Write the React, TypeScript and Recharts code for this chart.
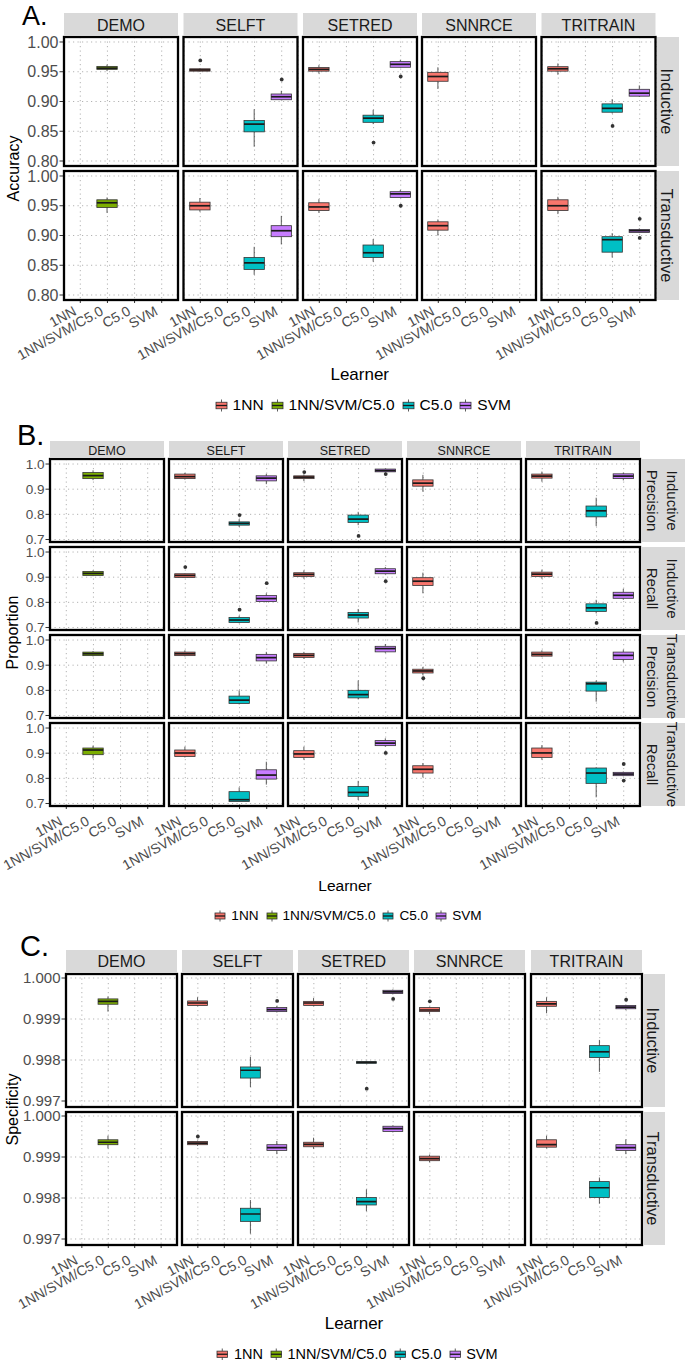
import React from 'react';
import { ComposedChart, Bar, Scatter, XAxis, YAxis, CartesianGrid } from 'recharts';

const FONT = '"Liberation Sans", Arial, Helvetica, sans-serif';

// Categories
const LEARNERS = ['1NN', '1NN/SVM/C5.0', 'C5.0', 'SVM'];
const METHODS = ['DEMO', 'SELFT', 'SETRED', 'SNNRCE', 'TRITRAIN'];
const FILLS = ['#F8766D', '#7CAE00', '#00BFC4', '#C77CFF'];

// Each box: [min, q1, median, q3, max, ...outliers]; list index follows LEARNERS
type Stat = number[] | null;

const accuracyInductive: Record<string, Stat[]> = {
  DEMO: [null, [0.951, 0.954, 0.956, 0.959, 0.962], null, null],
  SELFT: [[0.95, 0.951, 0.953, 0.955, 0.956, 0.969], null, [0.824, 0.849, 0.862, 0.868, 0.887], [0.9025, 0.903, 0.908, 0.9126, 0.918, 0.937]],
  SETRED: [[0.947, 0.951, 0.954, 0.957, 0.961], null, [0.862, 0.865, 0.872, 0.877, 0.886, 0.831], [0.957, 0.9575, 0.9625, 0.967, 0.97, 0.942]],
  SNNRCE: [[0.921, 0.934, 0.942, 0.949, 0.9575], null, null, null],
  TRITRAIN: [[0.945, 0.951, 0.955, 0.9585, 0.964], null, [0.88, 0.882, 0.8885, 0.896, 0.904, 0.859], [0.908, 0.909, 0.914, 0.9205, 0.927]],
};

const accuracyTransductive: Record<string, Stat[]> = {
  DEMO: [null, [0.938, 0.947, 0.955, 0.96, 0.964], null, null],
  SELFT: [[0.94, 0.943, 0.95, 0.956, 0.963], null, [0.834, 0.843, 0.854, 0.863, 0.881], [0.885, 0.898, 0.908, 0.9165, 0.933]],
  SETRED: [[0.938, 0.942, 0.948, 0.955, 0.961], null, [0.856, 0.863, 0.871, 0.884, 0.894], [0.9636, 0.9637, 0.97, 0.9736, 0.9765, 0.95]],
  SNNRCE: [[0.9, 0.909, 0.9165, 0.923, 0.927], null, null, null],
  TRITRAIN: [[0.936, 0.942, 0.95, 0.96, 0.965], null, [0.863, 0.872, 0.893, 0.898, 0.904], [0.904, 0.905, 0.908, 0.91, 0.912, 0.928, 0.896]],
};

const precisionInductive: Record<string, Stat[]> = {
  DEMO: [null, [0.936, 0.942, 0.954, 0.966, 0.975], null, null],
  SELFT: [[0.938, 0.942, 0.95, 0.96, 0.965], null, [0.75, 0.757, 0.764, 0.77, 0.781, 0.797], [0.92, 0.933, 0.944, 0.953, 0.961]],
  SETRED: [[0.932, 0.942, 0.948, 0.953, 0.959, 0.968], null, [0.757, 0.768, 0.781, 0.797, 0.81, 0.714], [0.966, 0.969, 0.974, 0.98, 0.982, 0.96]],
  SNNRCE: [[0.89, 0.912, 0.924, 0.937, 0.957], null, null, null],
  TRITRAIN: [[0.93, 0.944, 0.952, 0.96, 0.97], null, [0.753, 0.79, 0.814, 0.833, 0.866], [0.935, 0.942, 0.952, 0.961, 0.966]],
};

const recallInductive: Record<string, Stat[]> = {
  DEMO: [null, [0.904, 0.907, 0.915, 0.923, 0.927], null, null],
  SELFT: [[0.898, 0.899, 0.907, 0.9136, 0.915, 0.94], null, [0.717, 0.72, 0.7296, 0.74, 0.747, 0.771], [0.8, 0.803, 0.815, 0.827, 0.836, 0.876]],
  SETRED: [[0.894, 0.903, 0.911, 0.9176, 0.927], null, [0.72, 0.7376, 0.7496, 0.76, 0.7736], [0.911, 0.9136, 0.924, 0.9336, 0.94, 0.884]],
  SNNRCE: [[0.836, 0.867, 0.884, 0.898, 0.918], null, null, null],
  TRITRAIN: [[0.894, 0.903, 0.912, 0.92, 0.93], null, [0.756, 0.764, 0.778, 0.794, 0.81, 0.718], [0.81, 0.816, 0.828, 0.84, 0.854]],
};

const precisionTransductive: Record<string, Stat[]> = {
  DEMO: [null, [0.935, 0.938, 0.9455, 0.952, 0.956], null, null],
  SELFT: [[0.935, 0.938, 0.9455, 0.952, 0.959], null, [0.744, 0.748, 0.761, 0.777, 0.8], [0.906, 0.917, 0.93, 0.943, 0.953]],
  SETRED: [[0.925, 0.931, 0.939, 0.947, 0.953], null, [0.764, 0.77, 0.783, 0.8, 0.839], [0.949, 0.953, 0.966, 0.975, 0.984]],
  SNNRCE: [[0.86, 0.869, 0.877, 0.884, 0.893, 0.848], null, null, null],
  TRITRAIN: [[0.933, 0.936, 0.943, 0.952, 0.959], null, [0.755, 0.797, 0.826, 0.8325, 0.839], [0.914, 0.923, 0.939, 0.952, 0.962]],
};

const recallTransductive: Record<string, Stat[]> = {
  DEMO: [null, [0.879, 0.894, 0.9126, 0.9205, 0.93], null, null],
  SELFT: [[0.883, 0.887, 0.9007, 0.9126, 0.926], null, [0.707, 0.708, 0.715, 0.747, 0.764], [0.775, 0.797, 0.813, 0.834, 0.866]],
  SETRED: [[0.874, 0.883, 0.897, 0.91, 0.926], null, [0.714, 0.7285, 0.744, 0.768, 0.79], [0.926, 0.93, 0.94, 0.95, 0.959, 0.901]],
  SNNRCE: [[0.804, 0.821, 0.836, 0.85, 0.861], null, null, null],
  TRITRAIN: [[0.874, 0.883, 0.901, 0.9205, 0.932], null, [0.7245, 0.78, 0.821, 0.841, 0.844], [0.808, 0.8106, 0.817, 0.8238, 0.827, 0.857, 0.791]],
};

const specificityInductive: Record<string, Stat[]> = {
  DEMO: [null, [0.99918, 0.99936, 0.99943, 0.99949, 0.99955], null, null],
  SELFT: [[0.99931, 0.99933, 0.99939, 0.99944, 0.99953], null, [0.99734, 0.99756, 0.99775, 0.99783, 0.99808], [0.99916, 0.99918, 0.99923, 0.99928, 0.99932, 0.99944]],
  SETRED: [[0.99931, 0.99933, 0.99939, 0.99943, 0.99951], null, [0.99791, 0.99792, 0.99794, 0.99796, 0.99797, 0.9973], [0.9996, 0.99962, 0.99966, 0.9997, 0.99972, 0.99949]],
  SNNRCE: [[0.99912, 0.99918, 0.99922, 0.99928, 0.9993, 0.99943], null, null, null],
  TRITRAIN: [[0.99914, 0.99931, 0.99937, 0.99943, 0.99953], null, [0.99771, 0.99806, 0.9982, 0.99835, 0.99849], [0.99922, 0.99925, 0.99929, 0.99933, 0.99935, 0.99947]],
};

const specificityTransductive: Record<string, Stat[]> = {
  DEMO: [null, [0.99921, 0.9993, 0.99936, 0.99942, 0.99952], null, null],
  SELFT: [[0.99927, 0.9993, 0.99934, 0.99938, 0.9994, 0.9995], null, [0.99713, 0.99743, 0.99761, 0.99775, 0.99795], [0.99907, 0.99916, 0.99923, 0.9993, 0.99939]],
  SETRED: [[0.9992, 0.99925, 0.99931, 0.99936, 0.99947], null, [0.99768, 0.99783, 0.99791, 0.99801, 0.99821], [0.9996, 0.99962, 0.99969, 0.99975, 0.99977]],
  SNNRCE: [[0.99887, 0.99891, 0.99896, 0.99902, 0.99906], null, null, null],
  TRITRAIN: [[0.99921, 0.99924, 0.9993, 0.99942, 0.99952], null, [0.99786, 0.99801, 0.99825, 0.9984, 0.9985], [0.99907, 0.99916, 0.99923, 0.9993, 0.99943]],
};

// Tick labels
const ACC_TICKS = [0.8, 0.85, 0.9, 0.95, 1.0];
const PROP_TICKS = [0.7, 0.8, 0.9, 1.0];
const SPEC_TICKS = [0.997, 0.998, 0.999, 1.0];

const PANELS = [
  {
    letter: 'A.', letterX: 22, letterBase: 25, letterFont: 27,
    cols: [64, 183.5, 303, 422, 541.5], W: 114,
    rowsY: [37, 171], H: 129,
    stripTop: 13, stripH: 22, stripFont: 16, stripBase: 30.5,
    rsX: 657, rsW: 22, rsFont: 16.5, rsBases: [660.5],
    rowLabels: [['Inductive'], ['Transductive']],
    rowData: [accuracyInductive, accuracyTransductive],
    domain: [0.7916, 1.0084], ticks: ACC_TICKS, decimals: 2,
    yFont: 16, xFont: 14, xDy: 9,
    yTitle: 'Accuracy', yTitleX: 18.5, yTitleFont: 16,
    learnerBase: 380, learnerFont: 17,
    legendCY: 405, legendFont: 15.5, legendKey: 13,
  },
  {
    letter: 'B.', letterX: 17, letterBase: 445, letterFont: 29,
    cols: [50, 169, 288, 407, 526], W: 114,
    rowsY: [459, 547, 635, 723], H: 83,
    stripTop: 441, stripH: 17, stripFont: 12.5, stripBase: 455,
    rsX: 642, rsW: 43, rsFont: 15, rsBases: [666.7, 646.7],
    rowLabels: [['Inductive', 'Precision'], ['Inductive', 'Recall'], ['Transductive', 'Precision'], ['Transductive', 'Recall']],
    rowData: [precisionInductive, recallInductive, precisionTransductive, recallTransductive],
    domain: [0.69, 1.02], ticks: PROP_TICKS, decimals: 1,
    yFont: 13.5, xFont: 14, xDy: 13,
    yTitle: 'Proportion', yTitleX: 18, yTitleFont: 16,
    learnerBase: 890.5, learnerFont: 15.5,
    legendCY: 915.5, legendFont: 13.6, legendKey: 12,
  },
  {
    letter: 'C.', letterX: 20, letterBase: 956, letterFont: 29,
    cols: [66, 182, 298, 414, 531], W: 111,
    rowsY: [974, 1112], H: 133,
    stripTop: 950, stripH: 23, stripFont: 16, stripBase: 967,
    rsX: 643, rsW: 22, rsFont: 16.5, rsBases: [646.5],
    rowLabels: [['Inductive'], ['Transductive']],
    rowData: [specificityInductive, specificityTransductive],
    domain: [0.9968537, 1.0000976], ticks: SPEC_TICKS, decimals: 3,
    yFont: 15, xFont: 14, xDy: 13,
    yTitle: 'Specificity', yTitleX: 18, yTitleFont: 16,
    learnerBase: 1328.5, learnerFont: 17,
    legendCY: 1354.5, legendFont: 14.5, legendKey: 12.5,
  },
];

const BOX_STROKE = '#333333';

function BoxShape(props: any) {
  const { x, y, width, height, payload } = props;
  const s: Stat = payload ? payload.stat : null;
  if (!s || !isFinite(y) || !isFinite(height) || !isFinite(x)) return <g />;
  const [mn, q1, md, q3, mx] = s;
  const top = Math.min(y, y + height);
  const bot = Math.max(y, y + height);
  const py = (v: number) => (mx === mn ? top : bot + ((v - mn) / (mx - mn)) * (top - bot));
  const cx = x + width / 2;
  const boxTop = py(q3);
  const boxBot = py(q1);
  return (
    <g>
      <line x1={cx} x2={cx} y1={py(mx)} y2={boxTop} stroke={BOX_STROKE} strokeWidth={0.8} />
      <line x1={cx} x2={cx} y1={boxBot} y2={py(mn)} stroke={BOX_STROKE} strokeWidth={0.8} />
      <rect x={x} y={boxTop} width={width} height={Math.max(boxBot - boxTop, 0.6)} fill={payload.fill} stroke={BOX_STROKE} strokeWidth={0.8} />
      <line x1={x} x2={x + width} y1={py(md)} y2={py(md)} stroke="#1a1a1a" strokeWidth={1.7} />
    </g>
  );
}

function OutlierShape(props: any) {
  const { cx, cy } = props;
  if (cx == null || cy == null || !isFinite(cx) || !isFinite(cy)) return <g />;
  return <circle cx={cx} cy={cy} r={1.9} fill="#333333" />;
}

function XTick(props: any) {
  const { x, y, payload, font, dy } = props;
  const ax = x - 3;
  const ay = y + dy;
  return (
    <text x={ax} y={ay} transform={`rotate(-29 ${ax} ${ay})`} textAnchor="end" fontSize={font} fill="#4d4d4d" fontFamily={FONT}>
      {payload.value}
    </text>
  );
}

function Facet(p: any) {
  const { stats, domain, ticks, decimals, showY, showX, yW, xH, W, H, yFont, xFont, xDy } = p;
  const data = LEARNERS.map((l, i) => {
    const s: Stat = stats[i];
    return {
      learner: l,
      range: s ? [s[0], s[4]] : null,
      stat: s,
      fill: FILLS[i],
      o1: s && s.length > 5 ? s[5] : null,
      o2: s && s.length > 6 ? s[6] : null,
    };
  });
  const pad = (W * (1 - 4 / 4.2)) / 2;
  const barW = (0.75 * W) / 4.2;
  return (
    <ComposedChart width={W + (showY ? yW : 0)} height={H + (showX ? xH : 0)} data={data} margin={{ top: 0, right: 0, bottom: 0, left: 0 }}>
      <CartesianGrid stroke="#b3b3b3" strokeDasharray="1.2 3.3" strokeWidth={1} />
      <XAxis
        dataKey="learner"
        type="category"
        hide={!showX}
        height={xH}
        padding={{ left: pad, right: pad }}
        interval={0}
        axisLine={false}
        tickSize={3}
        tickLine={{ stroke: '#333333' }}
        tick={(tp: any) => <XTick {...tp} font={xFont} dy={xDy} />}
      />
      <YAxis
        type="number"
        domain={domain}
        ticks={ticks}
        allowDataOverflow
        hide={!showY}
        width={yW}
        axisLine={false}
        tickSize={4.5}
        tickMargin={1}
        interval={0}
        tickLine={{ stroke: '#333333' }}
        tick={{ fontSize: yFont, fill: '#4d4d4d', fontFamily: FONT }}
        tickFormatter={(v: number) => v.toFixed(decimals)}
      />
      <Bar dataKey="range" barSize={barW} isAnimationActive={false} shape={(bp: any) => <BoxShape {...bp} />} />
      <Scatter dataKey="o1" isAnimationActive={false} shape={(sp: any) => <OutlierShape {...sp} />} />
      <Scatter dataKey="o2" isAnimationActive={false} shape={(sp: any) => <OutlierShape {...sp} />} />
    </ComposedChart>
  );
}

function LegendKey({ color, size }: { color: string; size: number }) {
  const s = size;
  return (
    <svg width={s} height={s} style={{ display: 'block', overflow: 'visible' }}>
      <line x1={s / 2} x2={s / 2} y1={0.5} y2={s - 0.5} stroke={BOX_STROKE} strokeWidth={0.8} />
      <rect x={1} y={s * 0.25} width={s - 2} height={s * 0.5} fill={color} stroke={BOX_STROKE} strokeWidth={0.8} />
      <line x1={1} x2={s - 1} y1={s / 2} y2={s / 2} stroke="#1a1a1a" strokeWidth={1.3} />
    </svg>
  );
}

export default function App() {
  const charts: React.ReactNode[] = [];
  const overlay: React.ReactNode[] = [];
  const legends: React.ReactNode[] = [];

  PANELS.forEach((P, pi) => {
    const nRows = P.rowsY.length;
    const yW = P.cols[0];
    const xH = 75;
    const left0 = P.cols[0];
    const right0 = P.cols[4] + P.W;
    const centerX = (left0 + right0) / 2;

    P.rowsY.forEach((ry, r) => {
      P.cols.forEach((cx, c) => {
        const showY = c === 0;
        const showX = r === nRows - 1;
        charts.push(
          <div key={`c${pi}-${r}-${c}`} style={{ position: 'absolute', left: cx - (showY ? yW : 0), top: ry }}>
            <Facet
              stats={P.rowData[r][METHODS[c]]}
              domain={P.domain}
              ticks={P.ticks}
              decimals={P.decimals}
              showY={showY}
              showX={showX}
              yW={yW}
              xH={xH}
              W={P.W}
              H={P.H}
              yFont={P.yFont}
              xFont={P.xFont}
              xDy={P.xDy}
            />
          </div>
        );
        overlay.push(
          <rect key={`b${pi}-${r}-${c}`} x={cx} y={ry} width={P.W} height={P.H} fill="none" stroke="#000" strokeWidth={2.3} />
        );
      });
      // right strip
      const cy = ry + P.H / 2;
      overlay.push(<rect key={`rs${pi}-${r}`} x={P.rsX} y={ry} width={P.rsW} height={P.H} fill="#D9D9D9" />);
      P.rowLabels[r].forEach((lab, li) => {
        overlay.push(
          <text key={`rst${pi}-${r}-${li}`} transform={`translate(${P.rsBases[li]},${cy}) rotate(90)`} textAnchor="middle" fontSize={P.rsFont} fill="#1a1a1a" fontFamily={FONT}>
            {lab}
          </text>
        );
      });
    });

    // top strips
    P.cols.forEach((cx, c) => {
      overlay.push(<rect key={`ts${pi}-${c}`} x={cx} y={P.stripTop} width={P.W} height={P.stripH} fill="#D9D9D9" />);
      overlay.push(
        <text key={`tst${pi}-${c}`} x={cx + P.W / 2} y={P.stripBase} textAnchor="middle" fontSize={P.stripFont} fill="#1a1a1a" fontFamily={FONT}>
          {METHODS[c]}
        </text>
      );
    });

    // panel letter
    overlay.push(
      <text key={`let${pi}`} x={P.letterX} y={P.letterBase} fontSize={P.letterFont} fill="#000" fontFamily={FONT}>
        {P.letter}
      </text>
    );

    // y title
    const topY = P.rowsY[0];
    const botY = P.rowsY[nRows - 1] + P.H;
    overlay.push(
      <text key={`yt${pi}`} transform={`translate(${P.yTitleX},${(topY + botY) / 2}) rotate(-90)`} textAnchor="middle" fontSize={P.yTitleFont} fill="#000" fontFamily={FONT}>
        {P.yTitle}
      </text>
    );

    // x title
    overlay.push(
      <text key={`xt${pi}`} x={centerX} y={P.learnerBase} textAnchor="middle" fontSize={P.learnerFont} fill="#000" fontFamily={FONT}>
        Learner
      </text>
    );

    // legend
    legends.push(
      <div
        key={`lg${pi}`}
        style={{
          position: 'absolute',
          left: centerX + 3 - 300,
          width: 600,
          top: P.legendCY - 10,
          height: 20,
          display: 'flex',
          justifyContent: 'center',
          alignItems: 'center',
          fontFamily: FONT,
          fontSize: P.legendFont,
          color: '#000',
          lineHeight: 1,
        }}
      >
        {LEARNERS.map((l, i) => (
          <div key={l} style={{ display: 'flex', alignItems: 'center', marginLeft: i === 0 ? 0 : 7 }}>
            <LegendKey color={FILLS[i]} size={P.legendKey} />
            <span style={{ marginLeft: 5 }}>{l}</span>
          </div>
        ))}
      </div>
    );
  });

  return (
    <div style={{ position: 'absolute', left: 0, top: 0, width: 685, height: 1361, background: '#fff', overflow: 'hidden' }}>
      <style>{'.recharts-surface{overflow:visible}'}</style>
      {charts}
      <svg width={685} height={1361} style={{ position: 'absolute', left: 0, top: 0, pointerEvents: 'none', overflow: 'visible' }}>
        {overlay}
      </svg>
      {legends}
    </div>
  );
}
